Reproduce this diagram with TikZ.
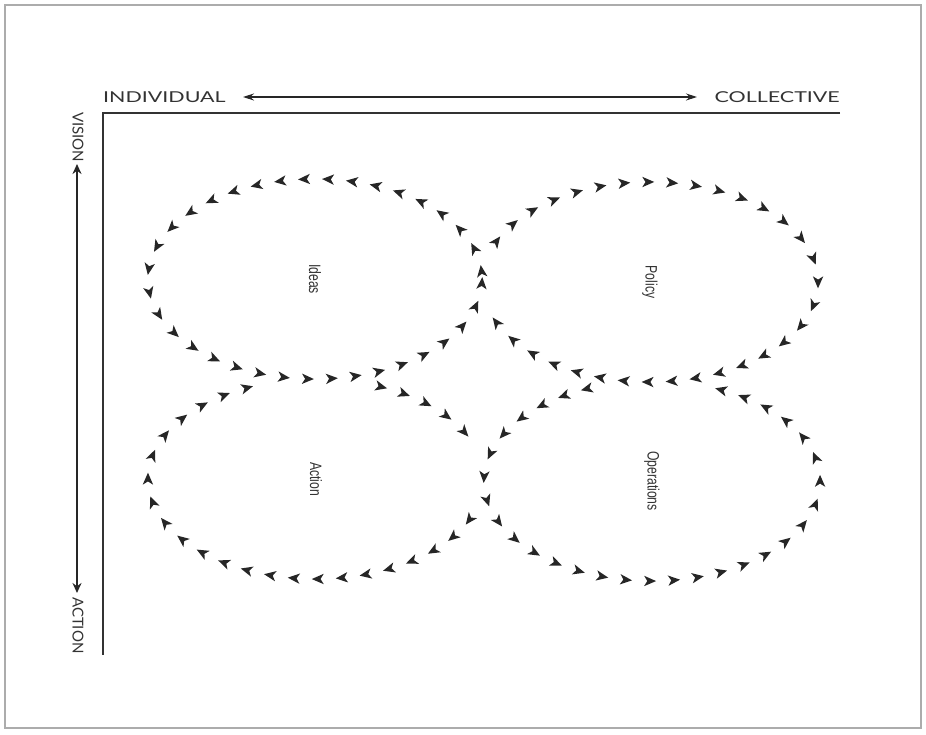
\documentclass[tikz,border=0pt]{standalone}
\usepackage{fontspec}
\usepackage{graphicx}
\setmainfont{Liberation Sans}
\newfontfamily\axisfont{Lato}
\usetikzlibrary{arrows.meta,decorations.markings,calc}
\newcommand{\widelab}[1]{\scalebox{1.43}[1]{#1}}
\newcommand{\narrowlab}[1]{\scalebox{0.74}[1]{#1}}
\begin{document}
\begin{tikzpicture}[x=1pt,y=1pt,
  ink/.style={color=black!85},
  flow/.style={ink, postaction={decorate}, decoration={markings,
     mark=between positions 8pt and -4pt step 24pt with {\fill (6pt,0) -- (-6pt,5.2pt) -- (-2.8pt,0) -- (-6pt,-5.2pt) -- cycle;}}},
  axislab/.style={font=\axisfont\fontsize{15}{16}\selectfont, text=black!80, inner sep=0pt},
  looplab/.style={font=\fontsize{16.5}{17}\selectfont, text=black!80, inner sep=0pt, rotate=-90},
  axisline/.style={draw=black!80, line width=1.3pt},
]
\useasboundingbox (0,0) rectangle (926,734);
\draw[gray!65, line width=1.2pt] (5,6) rectangle (921,729);

% axis labels and arrows
\node[axislab, anchor=west] (ind) at (103,637) {\widelab{INDIVIDUAL}};
\node[axislab, anchor=east] (col) at (840,637) {\widelab{COLLECTIVE}};
\coordinate (hL) at (243,637);
\coordinate (hR) at (697,637);
\draw[black!85, line width=1.1pt, {Stealth[length=11pt,width=7pt]}-{Stealth[length=11pt,width=7pt]}] (hL) -- (hR);
\node[axislab, rotate=-90, anchor=west] (vis) at (78,622) {VISION};
\node[axislab, rotate=-90, anchor=west] (act) at (78,137) {ACTION};
\coordinate (vT) at (77,570);
\coordinate (vB) at (77,141);
\draw[black!85, line width=2.6pt, {Stealth[length=10pt,width=9pt]}-{Stealth[length=10pt,width=9pt]}] (vT) -- (vB);

\coordinate (o) at (103,621);
\coordinate (xe) at (840,621);
\coordinate (ye) at (103,79);
\draw[axisline] (xe) -- (o) -- (ye);

% loop centres
\coordinate (I) at (315,455);
\coordinate (P) at (650,452);
\coordinate (A) at (316,255);
\coordinate (O) at (652,253);

% Ideas: counterclockwise, full
\path[flow] (I) ++(0:167pt and 100pt) arc[start angle=0, end angle=360, x radius=167pt, y radius=100pt];
% Policy: clockwise, left part shared with Ideas
\path[flow] (P) ++(160:168pt and 100pt) arc[start angle=160, end angle=-160, x radius=168pt, y radius=100pt];
% Operations: counterclockwise, top part shared with Policy
\path[flow] (O) ++(110:168pt and 100pt) arc[start angle=110, end angle=430, x radius=168pt, y radius=100pt];
% Action: clockwise, top shared with Ideas, right shared with Operations
\path[flow] (A) ++(70:168pt and 100pt) arc[start angle=70, end angle=20, x radius=168pt, y radius=100pt];
\path[flow] (A) ++(-20:168pt and 100pt) arc[start angle=-20, end angle=-250, x radius=168pt, y radius=100pt];

\node[looplab] (lI) at (I) {\narrowlab{Ideas}};
\node[looplab] (lP) at (P) {\narrowlab{Policy}};
\node[looplab] (lA) at (A) {\narrowlab{Action}};
\node[looplab] (lO) at (O) {\narrowlab{Operations}};
\end{tikzpicture}
\end{document}
